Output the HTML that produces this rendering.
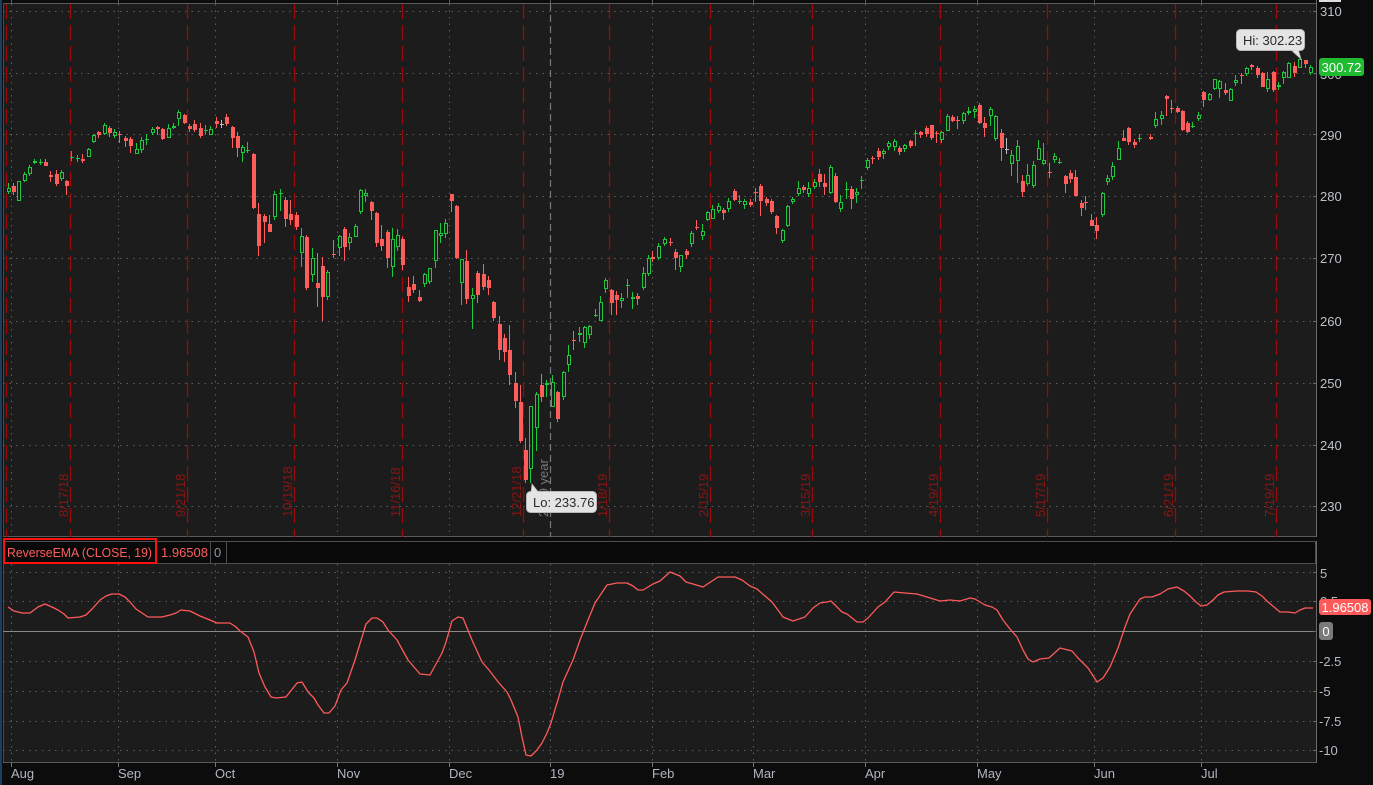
<!DOCTYPE html>
<html><head><meta charset="utf-8"><style>
html,body{margin:0;padding:0;background:#0c0c0c;}
svg{display:block;}
text{font-family:"Liberation Sans",sans-serif;}
</style></head><body>
<svg width="1373" height="785" viewBox="0 0 1373 785" xmlns="http://www.w3.org/2000/svg">
<rect x="0" y="0" width="1373" height="785" fill="#0c0c0c"/>
<rect x="0" y="0" width="2" height="785" fill="#1d3d60"/>
<!-- main panel -->
<rect x="3" y="3" width="1313" height="534" fill="#1c1c1c"/>
<line x1="3" y1="3.5" x2="1316" y2="3.5" stroke="#5a5a5a"/>
<line x1="3.5" y1="3" x2="3.5" y2="537" stroke="#4a4a4a"/>
<line x1="1316.5" y1="0" x2="1316.5" y2="537" stroke="#6a6a6a"/>
<line x1="3" y1="536.5" x2="1316" y2="536.5" stroke="#5a5a5a"/>
<g stroke="#5e5e5e" stroke-width="1" stroke-dasharray="1.5,5" fill="none">
<path d="M3 11.5H1316M3 73.5H1316M3 134.5H1316M3 196.5H1316M3 258.5H1316M3 321.5H1316M3 383.5H1316M3 445.5H1316M3 506.5H1316"/>
<path d="M11.5 4V537M118.5 4V537M215.5 4V537M337.5 4V537M449.5 4V537M652.5 4V537M753.5 4V537M865.5 4V537M977.5 4V537M1094.5 4V537M1201.5 4V537"/>
</g>
<g stroke="#5a5a5a"><path d="M11.5 0V3M118.5 0V3M215.5 0V3M337.5 0V3M449.5 0V3M550.5 0V3M652.5 0V3M753.5 0V3M865.5 0V3M977.5 0V3M1094.5 0V3M1201.5 0V3"/></g>
<!-- red expiration lines -->
<g stroke="#9a0a0a" stroke-width="1.3" stroke-dasharray="15,6" fill="none">
<path d="M6.5 4V537M70.5 4V537M187.5 4V537M294.5 4V537M402.5 4V537M523.5 4V537M609.5 4V537M710.5 4V537M812.5 4V537M940.5 4V537M1047.5 4V537M1175.5 4V537M1276.5 4V537"/>
</g>
<path d="M550.5 4V537" stroke="#777" stroke-width="1.2" stroke-dasharray="7,4"/>
<g fill="#8c1414" font-size="13">
<text transform="translate(68,517) rotate(-90)">8/17/18</text>
<text transform="translate(185,517) rotate(-90)">9/21/18</text>
<text transform="translate(292,517) rotate(-90)">10/19/18</text>
<text transform="translate(400,517) rotate(-90)">11/16/18</text>
<text transform="translate(521,517) rotate(-90)">12/21/18</text>
<text transform="translate(607,517) rotate(-90)">1/18/19</text>
<text transform="translate(708,517) rotate(-90)">2/15/19</text>
<text transform="translate(810,517) rotate(-90)">3/15/19</text>
<text transform="translate(938,517) rotate(-90)">4/19/19</text>
<text transform="translate(1045,517) rotate(-90)">5/17/19</text>
<text transform="translate(1173,517) rotate(-90)">6/21/19</text>
<text transform="translate(1274,517) rotate(-90)">7/19/19</text>
</g>
<text transform="translate(548,517) rotate(-90)" fill="#787878" font-size="13">2019 year</text>
<!-- candles -->
<path fill="#ff5c5c" d="M12 186h4v6h-4zM44 162h4v4h-4zM49 175h4v2h-4zM55 174h4v10h-4zM65 181h4v5h-4zM81 159h4v2h-4zM97 132h4v3h-4zM108 128h4v5h-4zM118 134h4v1h-4zM124 138h4v3h-4zM129 139h4v7h-4zM156 127h4v2h-4zM161 129h4v10h-4zM183 115h4v8h-4zM188 126h4v3h-4zM193 124h4v6h-4zM199 128h4v8h-4zM215 121h4v3h-4zM225 117h4v7h-4zM231 127h4v11h-4zM236 136h4v12h-4zM252 154h4v54h-4zM257 214h4v32h-4zM263 216h4v6h-4zM268 224h4v8h-4zM284 200h4v19h-4zM289 214h4v6h-4zM295 215h4v12h-4zM305 237h4v51h-4zM316 283h4v5h-4zM321 266h4v31h-4zM332 254h4v1h-4zM343 229h4v18h-4zM370 202h4v9h-4zM375 213h4v30h-4zM380 239h4v7h-4zM386 232h4v26h-4zM401 239h4v26h-4zM407 287h4v9h-4zM412 284h4v6h-4zM418 297h4v4h-4zM450 194h4v7h-4zM455 206h4v52h-4zM465 261h4v38h-4zM476 273h4v22h-4zM482 274h4v13h-4zM487 280h4v8h-4zM492 302h4v16h-4zM498 324h4v26h-4zM503 338h4v14h-4zM508 350h4v25h-4zM514 383h4v18h-4zM519 402h4v39h-4zM524 450h4v30h-4zM540 385h4v12h-4zM556 392h4v27h-4zM572 340h4v1h-4zM610 290h4v13h-4zM615 295h4v5h-4zM636 296h4v3h-4zM651 257h4v2h-4zM669 242h4v1h-4zM674 252h4v6h-4zM685 251h4v4h-4zM695 227h4v1h-4zM722 210h4v3h-4zM733 191h4v9h-4zM749 202h4v3h-4zM754 192h4v1h-4zM759 186h4v15h-4zM765 199h4v4h-4zM770 201h4v11h-4zM775 216h4v12h-4zM802 187h4v3h-4zM818 174h4v8h-4zM823 183h4v4h-4zM834 176h4v26h-4zM850 189h4v10h-4zM871 158h4v1h-4zM877 151h4v6h-4zM898 148h4v4h-4zM909 141h4v5h-4zM919 132h4v3h-4zM925 128h4v6h-4zM930 125h4v13h-4zM935 133h4v1h-4zM951 117h4v4h-4zM956 120h4v1h-4zM978 105h4v18h-4zM983 123h4v5h-4zM1000 133h4v15h-4zM1021 181h4v11h-4zM1048 172h4v1h-4zM1064 176h4v8h-4zM1069 173h4v6h-4zM1074 177h4v19h-4zM1080 203h4v5h-4zM1084 202h4v1h-4zM1090 220h4v6h-4zM1095 225h4v6h-4zM1122 138h4v3h-4zM1127 128h4v14h-4zM1133 142h4v3h-4zM1149 137h4v2h-4zM1165 96h4v3h-4zM1170 108h4v1h-4zM1176 108h4v4h-4zM1181 111h4v19h-4zM1186 123h4v9h-4zM1202 92h4v8h-4zM1224 90h4v3h-4zM1240 75h4v1h-4zM1250 65h4v2h-4zM1256 68h4v7h-4zM1261 73h4v14h-4zM1272 72h4v18h-4zM1293 66h4v7h-4zM1304 60h4v4h-4z"/>
<path stroke="#ff5c5c" stroke-width="1" fill="none" d="M13.5 183V195M45.5 159V166M50.5 171V182M56.5 170V186M66.5 180V195M82.5 154V163M98.5 131V138M109.5 126V137M119.5 131V143M125.5 136V147M130.5 137V153M157.5 126V135M162.5 128V140M184.5 114V124M189.5 124V132M194.5 120V132M200.5 123V138M216.5 117V128M226.5 114V126M232.5 126V148M237.5 132V157M253.5 153V209M258.5 203V256M264.5 214V243M269.5 215V232M285.5 197V227M290.5 200V225M296.5 212V230M306.5 235V290M317.5 253V307M322.5 257V321M333.5 240V258M344.5 227V261M371.5 201V220M376.5 212V247M381.5 225V251M387.5 230V268M402.5 237V270M408.5 277V302M413.5 276V293M419.5 290V302M451.5 194V212M456.5 205V259M466.5 250V304M477.5 271V303M483.5 264V290M488.5 276V295M493.5 301V321M499.5 316V360M504.5 334V362M509.5 325V385M515.5 372V408M520.5 385V443M525.5 438V483M541.5 374V402M557.5 391V422M573.5 331V350M611.5 289V315M616.5 291V315M637.5 293V305M652.5 251V262M670.5 238V246M675.5 249V270M686.5 249V259M696.5 220V230M723.5 208V220M734.5 189V201M750.5 199V207M755.5 188V202M760.5 184V216M766.5 197V206M771.5 199V214M776.5 215V234M803.5 185V193M819.5 169V187M824.5 174V195M835.5 173V203M851.5 186V209M872.5 156V164M878.5 148V160M899.5 146V155M910.5 140V148M920.5 131V138M926.5 126V137M931.5 125V140M936.5 131V143M952.5 115V122M957.5 116V129M979.5 103V124M984.5 117V137M1001.5 129V161M1022.5 175V197M1049.5 163V178M1065.5 175V193M1070.5 170V183M1075.5 170V196M1081.5 200V216M1085.5 196V210M1091.5 214V226M1096.5 217V239M1123.5 130V141M1128.5 127V145M1134.5 139V148M1150.5 134V140M1166.5 95V116M1171.5 100V113M1177.5 106V113M1182.5 110V131M1187.5 121V133M1203.5 91V107M1225.5 83V95M1241.5 73V84M1251.5 64V70M1257.5 66V78M1262.5 72V87M1273.5 71V92M1294.5 62V77M1305.5 60V68"/>
<path stroke="#1ec83c" stroke-width="1" fill="none" d="M7.5 188.5h3v3h-3zM17.5 181.5h3v19h-3zM23.5 174.5h3v6h-3zM28.5 167.5h3v6h-3zM33.5 161.5h3v1h-3zM39 162.5h4M60.5 172.5h3v6h-3zM70 157.5h4M76 158.5h4M87.5 149.5h3v7h-3zM92.5 135.5h3v6h-3zM103.5 125.5h3v8h-3zM113.5 132.5h3v3h-3zM135.5 149.5h3v4h-3zM140.5 140.5h3v9h-3zM145 139.5h4M151.5 129.5h3v3h-3zM167.5 128.5h3v9h-3zM172.5 126.5h3v1h-3zM177.5 112.5h3v6h-3zM204 130.5h4M209.5 129.5h3v5h-3zM241.5 147.5h3v5h-3zM246 150.5h4M273.5 194.5h3v22h-3zM279 193.5h4M300.5 236.5h3v16h-3zM311.5 258.5h3v16h-3zM326.5 272.5h3v24h-3zM338.5 236.5h3v11h-3zM348.5 237.5h3v5h-3zM354.5 226.5h3v10h-3zM359.5 190.5h3v21h-3zM364.5 193.5h3v2h-3zM391.5 239.5h3v27h-3zM396.5 235.5h3v11h-3zM423.5 274.5h3v9h-3zM428.5 268.5h3v13h-3zM434.5 230.5h3v30h-3zM439.5 233.5h3v2h-3zM444.5 223.5h3v10h-3zM460.5 259.5h3v23h-3zM471.5 295.5h3v3h-3zM529.5 406.5h3v62h-3zM535.5 394.5h3v33h-3zM545.5 383.5h3v1h-3zM551.5 382.5h3v24h-3zM562.5 372.5h3v24h-3zM567.5 355.5h3v9h-3zM578.5 333.5h3v1h-3zM583.5 327.5h3v15h-3zM588.5 326.5h3v8h-3zM594 315.5h4M599.5 302.5h3v18h-3zM604.5 280.5h3v8h-3zM620.5 298.5h3v2h-3zM626 285.5h4M631.5 297.5h3v1h-3zM642.5 273.5h3v14h-3zM647.5 258.5h3v15h-3zM657.5 246.5h3v11h-3zM663.5 239.5h3v4h-3zM679.5 255.5h3v11h-3zM690.5 233.5h3v10h-3zM701.5 231.5h3v4h-3zM706.5 212.5h3v7h-3zM711.5 209.5h3v9h-3zM717.5 206.5h3v4h-3zM727.5 201.5h3v7h-3zM738 201.5h4M743.5 201.5h3v3h-3zM781.5 230.5h3v10h-3zM786.5 206.5h3v19h-3zM791.5 199.5h3v2h-3zM797.5 188.5h3v5h-3zM807.5 188.5h3v5h-3zM813.5 182.5h3v4h-3zM829.5 167.5h3v25h-3zM839.5 202.5h3v6h-3zM845 189.5h4M855.5 192.5h3v2h-3zM860 180.5h4M866.5 160.5h3v7h-3zM882.5 151.5h3v2h-3zM887.5 143.5h3v3h-3zM893.5 141.5h3v5h-3zM903.5 145.5h3v3h-3zM914 133.5h4M940.5 132.5h3v7h-3zM946.5 116.5h3v14h-3zM962.5 113.5h3v7h-3zM967.5 111.5h3v1h-3zM973.5 109.5h3v2h-3zM989.5 109.5h3v6h-3zM994.5 116.5h3v22h-3zM1010.5 155.5h3v8h-3zM1016.5 146.5h3v14h-3zM1026.5 175.5h3v8h-3zM1032.5 165.5h3v20h-3zM1037.5 148.5h3v11h-3zM1042.5 160.5h3v3h-3zM1053.5 156.5h3v3h-3zM1058 162.5h4M1101.5 193.5h3v21h-3zM1106.5 178.5h3v3h-3zM1111.5 166.5h3v10h-3zM1117.5 148.5h3v11h-3zM1138 138.5h4M1154.5 119.5h3v6h-3zM1160.5 115.5h3v3h-3zM1191 126.5h4M1197.5 115.5h3v3h-3zM1208.5 94.5h3v5h-3zM1213.5 79.5h3v9h-3zM1218.5 81.5h3v7h-3zM1229.5 89.5h3v11h-3zM1234.5 80.5h3v2h-3zM1245.5 68.5h3v5h-3zM1266.5 79.5h3v9h-3zM1277.5 85.5h3v1h-3zM1282.5 72.5h3v5h-3zM1287.5 63.5h3v14h-3zM1298.5 59.5h3v8h-3zM1309.5 67.5h3v5h-3z"/>
<path stroke="#1ec83c" stroke-width="1" fill="none" d="M8.5 183V188M8.5 192V194M24.5 172V174M24.5 181V182M29.5 165V167M29.5 174V176M34.5 159V161M34.5 163V164M40.5 159V165M61.5 170V172M61.5 179V181M71.5 151V161M77.5 155V162M88.5 148V149M93.5 134V135M93.5 142V143M104.5 123V125M104.5 134V135M114.5 129V132M114.5 136V138M136.5 143V149M141.5 137V140M141.5 150V153M146.5 134V145M152.5 127V129M152.5 133V135M168.5 124V128M173.5 123V126M173.5 128V129M178.5 110V112M178.5 119V126M205.5 125V134M210.5 126V129M242.5 145V147M242.5 153V162M247.5 142V153M274.5 191V194M274.5 217V220M280.5 189V211M301.5 228V236M301.5 253V267M312.5 248V258M312.5 275V282M327.5 270V272M327.5 297V300M339.5 235V236M339.5 248V256M349.5 233V237M349.5 243V250M355.5 224V226M360.5 189V190M360.5 212V214M365.5 189V193M365.5 196V202M392.5 228V239M392.5 267V277M397.5 229V235M397.5 247V251M424.5 273V274M424.5 284V287M429.5 282V284M435.5 261V268M440.5 223V233M440.5 236V243M445.5 219V223M445.5 234V238M461.5 283V305M472.5 288V295M472.5 299V329M530.5 469V483M536.5 392V394M536.5 428V451M546.5 380V383M546.5 385V397M552.5 375V382M563.5 371V372M563.5 397V400M568.5 345V355M568.5 365V372M579.5 327V333M579.5 335V342M584.5 326V327M584.5 343V348M589.5 325V326M589.5 335V339M595.5 309V317M600.5 296V302M605.5 278V280M605.5 289V293M621.5 293V298M621.5 301V308M627.5 279V298M632.5 292V297M632.5 299V309M643.5 267V273M643.5 288V290M648.5 255V258M648.5 274V276M658.5 243V246M658.5 258V260M664.5 237V239M664.5 244V246M680.5 267V272M691.5 231V233M691.5 244V247M702.5 224V231M702.5 236V240M707.5 211V212M707.5 220V221M712.5 205V209M718.5 203V206M718.5 211V213M728.5 198V201M728.5 209V212M739.5 195V204M744.5 199V201M744.5 205V209M782.5 229V230M782.5 241V243M787.5 205V206M787.5 226V227M792.5 197V199M792.5 202V204M798.5 181V188M798.5 194V196M808.5 182V188M808.5 194V197M814.5 179V182M814.5 187V189M830.5 165V167M830.5 193V194M840.5 195V202M840.5 209V212M846.5 182V199M856.5 188V192M856.5 195V203M861.5 176V189M867.5 158V160M867.5 168V170M883.5 149V151M883.5 154V159M888.5 141V143M888.5 147V150M894.5 139V141M894.5 147V151M904.5 144V145M904.5 149V152M915.5 130V146M941.5 131V132M941.5 140V143M947.5 114V116M963.5 112V113M963.5 121V124M968.5 107V111M968.5 112V115M974.5 106V109M974.5 112V118M990.5 107V109M990.5 116V126M995.5 115V116M995.5 139V141M1011.5 150V155M1011.5 164V176M1017.5 140V146M1017.5 161V183M1027.5 164V175M1027.5 184V186M1033.5 161V165M1033.5 186V188M1038.5 140V148M1043.5 143V160M1043.5 164V165M1054.5 153V156M1054.5 160V163M1059.5 158V164M1102.5 192V193M1102.5 215V217M1107.5 175V178M1107.5 182V185M1112.5 162V166M1112.5 177V180M1118.5 141V148M1139.5 134V142M1155.5 112V119M1155.5 126V128M1161.5 111V115M1161.5 119V125M1192.5 122V128M1198.5 112V115M1198.5 119V121M1209.5 93V94M1209.5 100V101M1214.5 89V90M1219.5 80V81M1219.5 89V98M1230.5 88V89M1235.5 75V80M1235.5 83V86M1246.5 67V68M1246.5 74V76M1267.5 72V79M1267.5 89V92M1278.5 82V85M1278.5 87V90M1283.5 71V72M1283.5 78V84M1288.5 62V63M1310.5 65V67M1310.5 73V75"/>
<path stroke="#bdbdbd" stroke-width="1" fill="none" d="M220 124.5h4M221.5 120V128M1005 149.5h4M1006.5 138V154"/>
<!-- price axis -->
<g stroke="#6a6a6a"><path d="M1313 11.5h4M1313 73.5h4M1313 134.5h4M1313 196.5h4M1313 258.5h4M1313 321.5h4M1313 383.5h4M1313 445.5h4M1313 506.5h4"/></g>
<rect x="1319" y="0" width="22" height="2" fill="#dcdcdc"/>
<g fill="#bcc2c8" font-size="13">
<text x="1320" y="16">310</text>
<text x="1320" y="79">300</text>
<text x="1320" y="140">290</text>
<text x="1320" y="201">280</text>
<text x="1320" y="263">270</text>
<text x="1320" y="326">260</text>
<text x="1320" y="388">250</text>
<text x="1320" y="450">240</text>
<text x="1320" y="511">230</text>
</g>
<rect x="1319" y="58" width="45" height="18" rx="3" fill="#20bb30"/>
<text x="1341.5" y="72" fill="#ffffff" font-size="13" text-anchor="middle">300.72</text>
<!-- hi / lo bubbles -->
<polygon points="1290,49 1298,49 1301,59" fill="#e4e4e4" stroke="#b8b8b8" stroke-width="0.8"/>
<rect x="1236.5" y="29.5" width="68" height="21" rx="4" fill="#e4e4e4" stroke="#b8b8b8"/>
<polygon points="1290,49.5 1298,49.5 1299,52" fill="#e4e4e4"/>
<text x="1243" y="45" fill="#2a2a2a" font-size="13">Hi: 302.23</text>
<polygon points="531,493 539,493 532,484" fill="#e4e4e4" stroke="#b8b8b8" stroke-width="0.8"/>
<rect x="526.5" y="491.5" width="70" height="21" rx="4" fill="#e4e4e4" stroke="#b8b8b8"/>
<polygon points="531,492 539,492 533,489" fill="#e4e4e4"/>
<text x="533" y="507" fill="#2a2a2a" font-size="13">Lo: 233.76</text>
<!-- indicator header -->
<rect x="3" y="541" width="1313" height="22" fill="#090909"/>
<rect x="3.5" y="541.5" width="1312" height="22" fill="none" stroke="#4e4e4e"/>
<line x1="210.5" y1="542" x2="210.5" y2="563" stroke="#4e4e4e"/>
<line x1="226.5" y1="542" x2="226.5" y2="563" stroke="#4e4e4e"/>
<rect x="4" y="539" width="152" height="24" fill="none" stroke="#ff1010" stroke-width="2"/>
<text x="7" y="557" fill="#ff5e5e" font-size="13" textLength="145" lengthAdjust="spacingAndGlyphs">ReverseEMA (CLOSE, 19)</text>
<text x="161" y="557" fill="#ff5e5e" font-size="13">1.96508</text>
<text x="214" y="557" fill="#8a9aa8" font-size="13">0</text>
<!-- lower panel -->
<rect x="3" y="564" width="1313" height="199" fill="#1c1c1c"/>
<line x1="3.5" y1="564" x2="3.5" y2="763" stroke="#4a4a4a"/>
<line x1="1316.5" y1="541" x2="1316.5" y2="763" stroke="#6a6a6a"/>
<line x1="3" y1="762.5" x2="1316" y2="762.5" stroke="#5a5a5a"/>
<g stroke="#5e5e5e" stroke-width="1" stroke-dasharray="1.5,5" fill="none">
<path d="M3 572.5H1316M3 601.5H1316M3 661.5H1316M3 691.5H1316M3 721.5H1316M3 750.5H1316"/>
<path d="M11.5 564V762M118.5 564V762M215.5 564V762M337.5 564V762M449.5 564V762M550.5 564V762M652.5 564V762M753.5 564V762M865.5 564V762M977.5 564V762M1094.5 564V762M1201.5 564V762"/>
</g>
<line x1="3" y1="631.5" x2="1316" y2="631.5" stroke="#8a8a8a"/>
<polyline fill="none" stroke="#ff5a5a" stroke-width="1.3" stroke-linejoin="round" points="8,607 14,611 22,613 30,613 38,607 45,604 52,607 58,610 64,614 68,618 80,617 86,615 93,608 100,600 106,596 112,594 119,594 125,597 130,602 136,609 142,613 148,617 162,617 170,615 176,613 181,610 190,611 200,616 210,620 217,623 230,623 236,627 240,631 248,637 254,652 259,673 265,687 271,697 276,698 286,697 297,683 302,682 308,692 314,698 318,705 324,713 329,713 335,706 341,690 347,683 355,660 362,637 366,624 372,618 377,618 383,622 388,630 397,640 408,660 420,674 430,675 442,653 446,642 452,621 458,617 463,618 472,640 482,662 489,670 499,683 507,692 511,700 518,717 522,737 526,755 531,756 537,750 542,743 547,733 551,723 556,706 558,700 563,682 573,660 580,640 588,620 595,603 607,585 617,583 627,583 633,586 638,590 643,590 653,584 660,581 670,572 680,576 686,582 693,584 703,587 709,583 718,577 735,577 742,580 750,586 757,589 772,602 783,617 793,621 805,617 813,608 820,603 827,602 831,601 842,612 847,614 857,622 863,622 868,618 878,607 885,602 894,592 905,593 917,594 927,597 940,601 950,600 960,601 970,598 975,599 985,605 992,607 997,610 1003,620 1010,629 1017,637 1023,650 1028,659 1033,662 1040,659 1049,658 1060,648 1072,651 1078,658 1088,668 1097,682 1103,678 1110,667 1118,648 1125,627 1130,614 1140,599 1145,597 1152,597 1160,594 1168,589 1177,587 1184,591 1190,596 1196,602 1201,606 1207,605 1213,600 1218,595 1224,592 1237,591 1248,591 1256,592 1262,596 1268,602 1274,607 1280,612 1288,612 1295,613 1300,610 1305,608 1313,608"/>
<g stroke="#6a6a6a"><path d="M1313 572.5h4M1313 601.5h4M1313 631.5h4M1313 661.5h4M1313 691.5h4M1313 721.5h4M1313 750.5h4"/></g>
<g fill="#b4bcc6" font-size="13">
<text x="1320" y="578">5</text>
<text x="1320" y="606">2.5</text>
<text x="1319" y="666">-2.5</text>
<text x="1319" y="696">-5</text>
<text x="1319" y="726">-7.5</text>
<text x="1319" y="755">-10</text>
</g>
<rect x="1319" y="599" width="52" height="16" rx="3" fill="#ff5a5a"/>
<text x="1345" y="612" fill="#ffffff" font-size="13" text-anchor="middle">1.96508</text>
<rect x="1319" y="622" width="14" height="18" rx="3" fill="#7a7a7a"/>
<text x="1326" y="636" fill="#ffffff" font-size="13" text-anchor="middle">0</text>
<!-- x axis -->
<g stroke="#777"><path d="M11.5 762V767M118.5 762V767M215.5 762V767M337.5 762V767M449.5 762V767M550.5 762V767M652.5 762V767M753.5 762V767M865.5 762V767M977.5 762V767M1094.5 762V767M1201.5 762V767"/></g>
<g fill="#aeb6c0" font-size="13">
<text x="11" y="778">Aug</text>
<text x="118" y="778">Sep</text>
<text x="215" y="778">Oct</text>
<text x="337" y="778">Nov</text>
<text x="449" y="778">Dec</text>
<text x="550" y="778">19</text>
<text x="652" y="778">Feb</text>
<text x="753" y="778">Mar</text>
<text x="865" y="778">Apr</text>
<text x="977" y="778">May</text>
<text x="1094" y="778">Jun</text>
<text x="1201" y="778">Jul</text>
</g>
</svg>
</body></html>
